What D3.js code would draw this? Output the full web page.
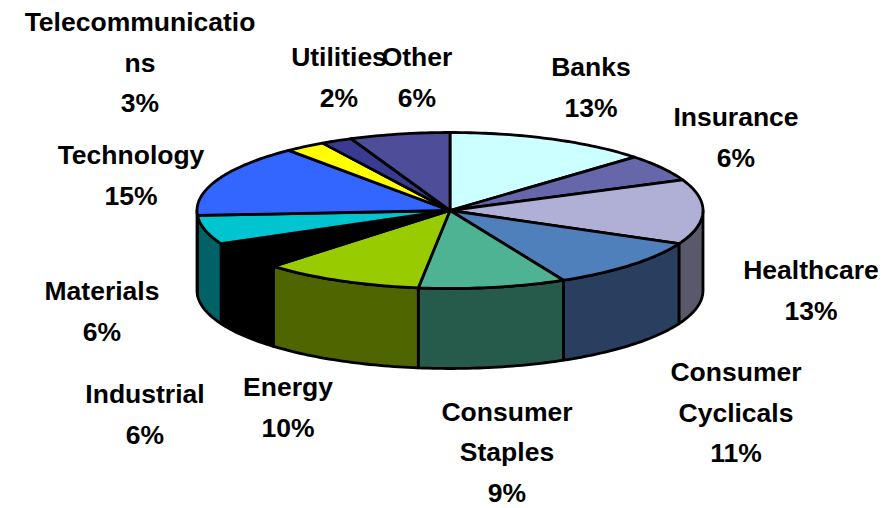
<!DOCTYPE html>
<html>
<head>
<meta charset="utf-8">
<script src="https://cdn.jsdelivr.net/npm/d3@7"></script>
<style>
  html, body { margin: 0; padding: 0; background: #fff; }
  svg { display: block; }
  text { font-family: "Liberation Sans", Arial, sans-serif; font-weight: bold; font-size: 26.5px; fill: #000; }
</style>
</head>
<body>
<svg id="chart"></svg>
<script>
// slices, clockwise from 12 o'clock
const categories = [["Banks"], ["Insurance"], ["Healthcare"], ["Consumer", "Cyclicals"], ["Consumer", "Staples"],
    ["Energy"], ["Industrial"], ["Materials"], ["Technology"], ["Telecommunicatio", "ns"], ["Utilities"], ["Other"]];
const values = [13, 5.6, 13.4, 10.6, 9.4, 10.3, 5.7, 6, 15, 2.6, 2, 6.4];
const topColors = ["#ccffff", "#6666aa", "#b0b0d6", "#5080bb", "#4db393", "#99cc00",
    "#000000", "#00c4cf", "#3366ff", "#ffff00", "#3a3a90", "#4d4d99"];
const sideColors = ["#66807f", "#333355", "#5a586b", "#2a3f5f", "#265a4a", "#4f6600",
    "#000000", "#006266", "#1a3380", "#808000", "#1d1d48", "#26264d"];

// centre x and middle y of the first line of each label
const labelAnchors = [[591, 67], [736, 117], [811, 270], [736, 372], [507, 411.5], [288, 387],
    [145, 394], [102, 291], [131, 155], [140, 22], [339, 57], [417, 57]];

const width = 885;
const height = 508;
const lineGap = 40.5;

const pie3d = { cx: 450, cy: 210.5, rx: 253, ry: 78, depth: 80 };

const svg = d3.select("#chart").attr("width", width).attr("height", height);

const slices = d3.pie().sort(null)(values);

// project an angle (0 = top, clockwise) on to the tilted disc
const px = a => pie3d.cx + pie3d.rx * Math.sin(a);
const py = a => pie3d.cy - pie3d.ry * Math.cos(a);

const line = d3.line();

const rimAngles = (a0, a1) => {
    const n = Math.max(2, Math.ceil((a1 - a0) / 0.02));
    return d3.range(n + 1).map(i => a0 + (a1 - a0) * i / n);
};

// side walls, only the front half of the rim shows
slices.forEach((d, i) => {
    const a0 = Math.max(d.startAngle, Math.PI / 2);
    const a1 = Math.min(d.endAngle, Math.PI * 1.5);
    if (a1 <= a0) return;
    const rim = rimAngles(a0, a1);
    const pts = rim.map(a => [px(a), py(a)])
        .concat(rim.slice().reverse().map(a => [px(a), py(a) + pie3d.depth]));
    svg.append("path")
        .attr("d", line(pts) + "Z")
        .attr("fill", sideColors[i])
        .attr("stroke", "#000")
        .attr("stroke-width", 2.8)
        .attr("stroke-linejoin", "round");
});

// top of the pie
svg.append("g")
    .selectAll("path")
    .data(slices)
    .enter()
    .append("path")
    .attr("d", d => {
        const pts = rimAngles(d.startAngle, d.endAngle).map(a => [px(a), py(a)]);
        return line([[pie3d.cx, pie3d.cy]].concat(pts)) + "Z";
    })
    .attr("fill", (d, i) => topColors[i])
    .attr("stroke", "#000")
    .attr("stroke-width", 2.8)
    .attr("stroke-linejoin", "round");

// labels
categories.forEach((lines, i) => {
    const [x, y] = labelAnchors[i];
    lines.concat([Math.round(values[i]) + "%"]).forEach((t, j) => {
        svg.append("text")
            .attr("x", x)
            .attr("y", y + j * lineGap)
            .attr("dy", "0.35em")
            .attr("text-anchor", "middle")
            .text(t);
    });
});
</script>
</body>
</html>
